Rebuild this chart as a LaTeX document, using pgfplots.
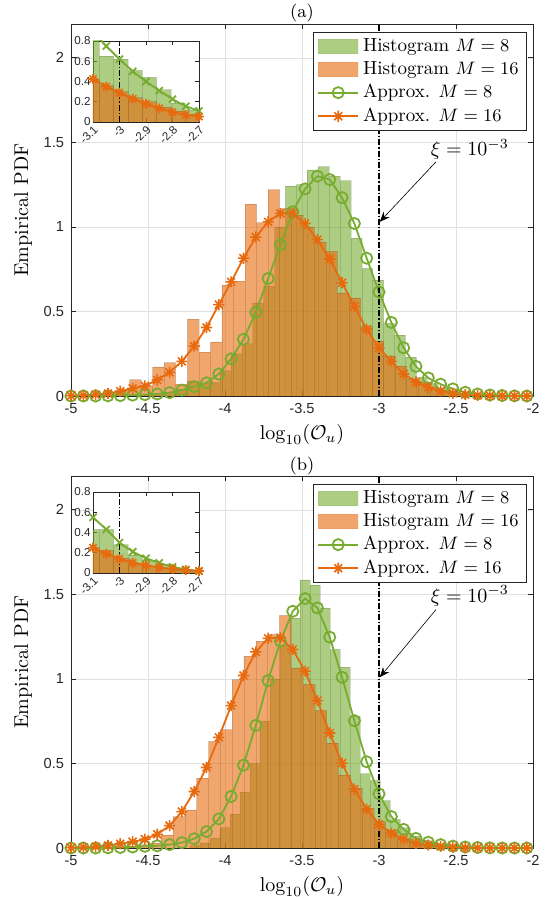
\documentclass[border=0pt]{standalone}
\usepackage{pgfplots}
\pgfplotsset{compat=1.18}
\usepackage{pgfplotstable}
\usepackage{fontspec}
\usetikzlibrary{arrows.meta}
\newfontfamily\helv{Liberation Sans}
\definecolor{gL}{RGB}{119,172,48}
\definecolor{oL}{RGB}{232,106,14}
\definecolor{axc}{RGB}{38,38,38}

\pgfdeclareplotmark{mstar}{%
  \pgfpathmoveto{\pgfqpoint{-\pgfplotmarksize}{0pt}}\pgfpathlineto{\pgfqpoint{\pgfplotmarksize}{0pt}}%
  \pgfpathmoveto{\pgfqpoint{0pt}{-\pgfplotmarksize}}\pgfpathlineto{\pgfqpoint{0pt}{\pgfplotmarksize}}%
  \pgfpathmoveto{\pgfqpoint{-0.707\pgfplotmarksize}{-0.707\pgfplotmarksize}}\pgfpathlineto{\pgfqpoint{0.707\pgfplotmarksize}{0.707\pgfplotmarksize}}%
  \pgfpathmoveto{\pgfqpoint{-0.707\pgfplotmarksize}{0.707\pgfplotmarksize}}\pgfpathlineto{\pgfqpoint{0.707\pgfplotmarksize}{-0.707\pgfplotmarksize}}%
  \pgfusepathqstroke}

% ---------- panel (a) histograms ----------
\pgfplotstableread{
x y
-4.528 0.005
-4.457 0.01
-4.386 0.02
-4.315 0.04
-4.245 0.09
-4.174 0.075
-4.103 0.08
-4.032 0.15
-3.961 0.25
-3.891 0.31
-3.820 0.55
-3.749 0.65
-3.678 1.00
-3.608 1.243
-3.537 1.25
-3.466 1.338
-3.395 1.357
-3.324 1.30
-3.253 1.274
-3.183 0.933
-3.112 0.755
-3.041 0.686
-2.970 0.43
-2.899 0.36
-2.829 0.23
-2.758 0.11
-2.687 0.073
-2.616 0.045
-2.545 0.025
-2.475 0.012
-2.404 0.005
-2.333 0
}\hAg
\pgfplotstableread{
x y
-4.845 0.01
-4.770 0.02
-4.695 0.04
-4.620 0.097
-4.545 0.06
-4.470 0.172
-4.395 0.198
-4.320 0.07
-4.245 0.455
-4.170 0.26
-4.095 0.32
-4.020 0.656
-3.945 0.68
-3.870 1.134
-3.795 1.026
-3.720 1.22
-3.645 1.11
-3.570 1.07
-3.495 1.00
-3.420 0.91
-3.345 0.855
-3.270 0.61
-3.195 0.58
-3.120 0.41
-3.045 0.325
-2.970 0.237
-2.895 0.178
-2.820 0.10
-2.745 0.08
-2.670 0.05
-2.595 0.03
-2.520 0.015
-2.445 0.008
-2.370 0
}\hAo
% ---------- panel (a) approximations ----------
\pgfplotstableread{
x y
-5.00 0.000
-4.92 0.000
-4.84 0.000
-4.76 0.001
-4.68 0.002
-4.60 0.005
-4.52 0.008
-4.44 0.012
-4.36 0.02
-4.28 0.035
-4.20 0.055
-4.12 0.078
-4.04 0.13
-3.96 0.22
-3.88 0.335
-3.80 0.495
-3.72 0.695
-3.64 0.895
-3.56 1.09
-3.48 1.225
-3.40 1.30
-3.32 1.28
-3.24 1.173
-3.16 1.02
-3.08 0.815
-3.00 0.615
-2.92 0.435
-2.84 0.285
-2.76 0.175
-2.68 0.107
-2.60 0.07
-2.52 0.042
-2.44 0.022
-2.36 0.012
-2.28 0.006
-2.20 0.003
-2.12 0.001
-2.04 0.000
}\aAg
\pgfplotstableread{
x y
-5.00 0.002
-4.92 0.004
-4.84 0.008
-4.76 0.015
-4.68 0.028
-4.60 0.045
-4.52 0.06
-4.44 0.095
-4.36 0.14
-4.28 0.205
-4.20 0.295
-4.12 0.405
-4.04 0.54
-3.96 0.675
-3.88 0.815
-3.80 0.94
-3.72 1.03
-3.64 1.08
-3.56 1.08
-3.48 1.02
-3.40 0.925
-3.32 0.81
-3.24 0.67
-3.16 0.53
-3.08 0.395
-3.00 0.285
-2.92 0.205
-2.84 0.13
-2.76 0.083
-2.68 0.052
-2.60 0.03
-2.52 0.016
-2.44 0.008
-2.36 0.004
-2.28 0.002
-2.20 0.001
-2.12 0.000
-2.04 0.000
}\aAo
% inset (a)
\pgfplotstableread{
x y
-3.130 0.85
-3.076 0.65
-3.022 0.62
-2.968 0.51
-2.914 0.44
-2.860 0.32
-2.806 0.19
-2.752 0.12
-2.698 0.08
-2.644 0
}\iAg
\pgfplotstableread{
x y
-3.130 0.42
-3.076 0.36
-3.022 0.30
-2.968 0.24
-2.914 0.20
-2.860 0.15
-2.806 0.11
-2.752 0.08
-2.698 0.06
-2.644 0
}\iAo
\pgfplotstableread{
x y
-3.05 0.75
-3.00 0.62
-2.95 0.50
-2.90 0.40
-2.85 0.31
-2.80 0.225
-2.75 0.155
-2.70 0.11
}\jAg
\pgfplotstableread{
x y
-3.10 0.425
-3.05 0.35
-3.00 0.29
-2.95 0.23
-2.90 0.18
-2.85 0.135
-2.80 0.096
-2.75 0.07
-2.70 0.053
}\jAo

% ---------- panel (b) histograms ----------
\pgfplotstableread{
x y
-4.228 0.015
-4.163 0.03
-4.098 0.06
-4.033 0.12
-3.968 0.20
-3.903 0.33
-3.838 0.50
-3.773 0.75
-3.708 1.00
-3.643 1.20
-3.578 1.36
-3.513 1.585
-3.448 1.554
-3.383 1.42
-3.318 1.174
-3.253 1.07
-3.188 0.78
-3.123 0.44
-3.058 0.40
-2.993 0.28
-2.928 0.17
-2.863 0.12
-2.798 0.07
-2.733 0.045
-2.668 0.025
-2.603 0.012
-2.538 0.005
-2.473 0
}\hBg
\pgfplotstableread{
x y
-4.720 0.005
-4.644 0.01
-4.567 0.02
-4.490 0.03
-4.414 0.077
-4.337 0.186
-4.260 0.225
-4.184 0.413
-4.107 0.63
-4.030 0.70
-3.954 0.996
-3.877 1.135
-3.800 1.224
-3.724 1.263
-3.647 1.376
-3.570 1.066
-3.494 0.967
-3.417 0.814
-3.340 0.62
-3.264 0.433
-3.187 0.354
-3.110 0.235
-3.034 0.156
-2.957 0.107
-2.880 0.057
-2.804 0.037
-2.727 0.024
-2.650 0.012
-2.574 0.006
-2.497 0
}\hBo
\pgfplotstableread{
x y
-5.00 0.000
-4.92 0.000
-4.84 0.000
-4.76 0.001
-4.68 0.003
-4.60 0.006
-4.52 0.01
-4.44 0.013
-4.36 0.02
-4.28 0.032
-4.20 0.055
-4.12 0.097
-4.04 0.172
-3.96 0.305
-3.88 0.49
-3.80 0.725
-3.72 0.99
-3.64 1.224
-3.56 1.40
-3.48 1.475
-3.40 1.42
-3.32 1.247
-3.24 1.01
-3.16 0.753
-3.08 0.51
-3.00 0.32
-2.92 0.186
-2.84 0.11
-2.76 0.057
-2.68 0.034
-2.60 0.02
-2.52 0.011
-2.44 0.006
-2.36 0.003
-2.28 0.001
-2.20 0.000
-2.12 0.000
-2.04 0.000
}\aBg
\pgfplotstableread{
x y
-5.00 0.002
-4.92 0.004
-4.84 0.008
-4.76 0.015
-4.68 0.025
-4.60 0.037
-4.52 0.052
-4.44 0.081
-4.36 0.132
-4.28 0.215
-4.20 0.334
-4.12 0.476
-4.04 0.654
-3.96 0.842
-3.88 1.02
-3.80 1.16
-3.72 1.24
-3.64 1.244
-3.56 1.174
-3.48 1.046
-3.40 0.872
-3.32 0.68
-3.24 0.502
-3.16 0.348
-3.08 0.23
-3.00 0.14
-2.92 0.087
-2.84 0.052
-2.76 0.028
-2.68 0.018
-2.60 0.01
-2.52 0.005
-2.44 0.002
-2.36 0.001
-2.28 0.000
-2.20 0.000
-2.12 0.000
-2.04 0.000
}\aBo
% inset (b)
\pgfplotstableread{
x y
-3.130 0.43
-3.076 0.43
-3.022 0.28
-2.968 0.18
-2.914 0.13
-2.860 0.09
-2.806 0.05
-2.752 0.03
-2.698 0.02
-2.644 0
}\iBg
\pgfplotstableread{
x y
-3.130 0.25
-3.076 0.22
-3.022 0.15
-2.968 0.10
-2.914 0.07
-2.860 0.05
-2.806 0.03
-2.752 0.02
-2.698 0.015
-2.644 0
}\iBo
\pgfplotstableread{
x y
-3.10 0.55
-3.05 0.43
-3.00 0.30
-2.95 0.21
-2.90 0.145
-2.85 0.10
-2.80 0.06
-2.75 0.035
-2.70 0.02
}\jBg
\pgfplotstableread{
x y
-3.10 0.25
-3.05 0.19
-3.00 0.14
-2.95 0.10
-2.90 0.075
-2.85 0.055
-2.80 0.04
-2.75 0.028
-2.70 0.02
}\jBo

\pgfplotsset{
  mainax/.style={
    scale only axis, width=231pt, height=186pt, anchor=south west,
    xmin=-5, xmax=-2, ymin=0, ymax=2.2,
    xtick={-5,-4.5,-4,-3.5,-3,-2.5,-2},
    xticklabels={-5,-4.5,-4,-3.5,-3,-2.5,-2},
    ytick={0,0.5,1,1.5,2}, yticklabels={0,0.5,1,1.5,2},
    tick label style={font=\helv\fontsize{7.3}{8}\selectfont, text=axc},
    axis line style={axc, line width=0.4pt},
    tick style={axc, line width=0.4pt},
    major tick length=2.6pt, tick align=inside,
    grid=major, major grid style={black!12, line width=0.3pt},
    xlabel={$\log_{10}(\mathcal{O}_u)$}, ylabel={Empirical PDF},
    label style={font=\fontsize{10}{12}\selectfont},
    xlabel style={yshift=1.5pt},
    ylabel style={yshift=-1pt},
    title style={anchor=base, yshift=-3pt, font=\fontsize{9}{10}\selectfont},
    legend style={at={(rel axis cs:1,1)}, anchor=north east, xshift=-3pt, yshift=-4pt,
      font=\fontsize{9.5}{11}\selectfont, draw=axc, line width=0.4pt,
      inner xsep=2pt, inner ysep=1pt, row sep=-0.5pt},
    legend cell align=left,
  },
  insax/.style={
    scale only axis, width=53pt, height=40.5pt, anchor=south west,
    xmin=-3.1, xmax=-2.7, ymin=0, ymax=0.8,
    xtick={-3.1,-3,-2.9,-2.8,-2.7}, xticklabels={-3.1,-3,-2.9,-2.8,-2.7},
    ytick={0,0.2,0.4,0.6,0.8}, yticklabels={0,0.2,0.4,0.6,0.8},
    tick label style={font=\helv\fontsize{5.8}{6}\selectfont, text=axc},
    xticklabel style={rotate=45, anchor=north east, inner sep=0.8pt},
    yticklabel style={inner sep=1pt},
    axis line style={axc, line width=0.4pt},
    tick style={axc, line width=0.4pt},
    major tick length=1.8pt, tick align=inside,
    axis background/.style={fill=white},
  },
  hg/.style={ybar interval, fill=gL, fill opacity=0.6, draw=black, draw opacity=0.12, line width=0.25pt},
  ho/.style={ybar interval, fill=oL, fill opacity=0.6, draw=black, draw opacity=0.12, line width=0.25pt},
  cg/.style={gL, line width=0.9pt, mark=o, mark size=2.8pt, mark options={line width=0.9pt}},
  co/.style={oL, line width=0.9pt, mark=mstar, mark size=2.8pt, mark options={line width=0.8pt}},
  dd/.style={black, line width=0.75pt, dash pattern=on 3pt off 1pt on 0.7pt off 1pt},
  lgbarg/.style={legend image code/.code={\fill[gL, fill opacity=0.6] (0pt,-3.6pt) rectangle (20pt,3.6pt);}},
  lgbaro/.style={legend image code/.code={\fill[oL, fill opacity=0.6] (0pt,-3.6pt) rectangle (20pt,3.6pt);}},
  lgline/.style={legend image code/.code={\draw[##1, mark repeat=2, mark phase=2] plot coordinates {(0pt,0pt) (10pt,0pt) (20pt,0pt)};}},
}

\begin{document}
\begin{tikzpicture}
\path[use as bounding box] (-35.5pt,-251pt) rectangle (241pt,198pt);

% ======== panel (a) ========
\begin{axis}[mainax, at={(0pt,0pt)}, title={(a)}]
\addplot[hg, lgbarg] table {\hAg};
\addlegendentry{Histogram $M=8$}
\addplot[ho, lgbaro] table {\hAo};
\addlegendentry{Histogram $M=16$}
\addplot[cg, lgline] table {\aAg};
\addlegendentry{Approx. $M=8$}
\addplot[co, lgline] table {\aAo};
\addlegendentry{Approx. $M=16$}
\addplot[dd, forget plot] coordinates {(-3,0) (-3,2.2)};
\node[font=\fontsize{10}{12}\selectfont] at (axis cs:-2.41,1.46) {$\xi = 10^{-3}$};
\draw[-{Stealth[length=5pt,width=4pt]}, line width=0.3pt] (axis cs:-2.63,1.385) -- (axis cs:-2.995,1.03);
\end{axis}

\begin{axis}[insax, at={(11pt,137pt)}]
\addplot[hg] table {\iAg};
\addplot[ho] table {\iAo};
\addplot[dd] coordinates {(-3,0) (-3,0.8)};
\addplot[gL, line width=0.9pt] coordinates {(-3.10,0.89) (-3.05,0.75)};
\addplot[gL, line width=0.9pt, mark=x, mark size=2.5pt, mark options={line width=0.9pt}] table {\jAg};
\addplot[co, mark size=2.5pt] table {\jAo};
\end{axis}

% ======== panel (b) ========
\begin{axis}[mainax, at={(0pt,-226pt)}, title={(b)}]
\addplot[hg, lgbarg] table {\hBg};
\addlegendentry{Histogram $M=8$}
\addplot[ho, lgbaro] table {\hBo};
\addlegendentry{Histogram $M=16$}
\addplot[cg, lgline] table {\aBg};
\addlegendentry{Approx. $M=8$}
\addplot[co, lgline] table {\aBo};
\addlegendentry{Approx. $M=16$}
\addplot[dd, forget plot] coordinates {(-3,0) (-3,2.2)};
\node[font=\fontsize{10}{12}\selectfont] at (axis cs:-2.41,1.49) {$\xi = 10^{-3}$};
\draw[-{Stealth[length=5pt,width=4pt]}, line width=0.3pt] (axis cs:-2.63,1.41) -- (axis cs:-2.995,1.01);
\end{axis}

\begin{axis}[insax, at={(11pt,-88.5pt)}]
\addplot[hg] table {\iBg};
\addplot[ho] table {\iBo};
\addplot[dd] coordinates {(-3,0) (-3,0.8)};
\addplot[gL, line width=0.9pt, mark=x, mark size=2.5pt, mark options={line width=0.9pt}] table {\jBg};
\addplot[co, mark size=2.5pt] table {\jBo};
\end{axis}
\end{tikzpicture}
\end{document}
